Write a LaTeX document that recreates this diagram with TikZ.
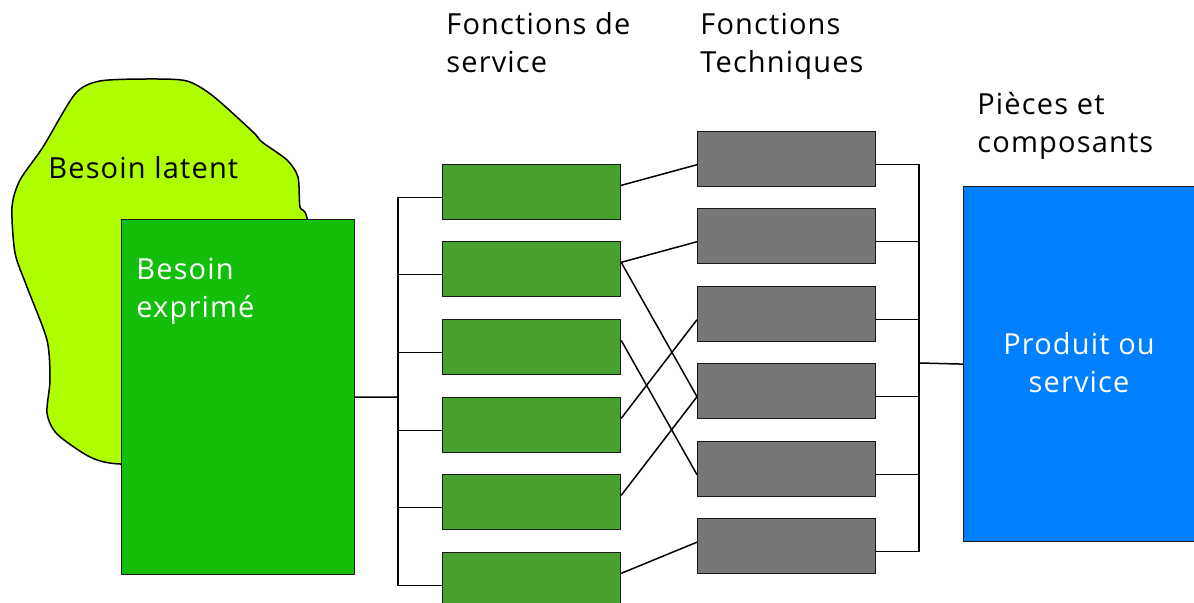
\documentclass[tikz,border=0pt]{standalone}
\usepackage{fontspec}
\setmainfont[LetterSpace=4]{Open Sans}
\usetikzlibrary{calc}

\definecolor{latentfill}{HTML}{AEFF00}
\definecolor{exprfill}{HTML}{13BF0A}
\definecolor{fsfill}{HTML}{4AA02E}
\definecolor{tffill}{HTML}{777777}
\definecolor{prodfill}{HTML}{0080FF}
\definecolor{edge}{HTML}{1A1A1A}

\tikzset{
  lbl/.style={font=\fontsize{14.5}{19}\selectfont, inner sep=0pt, align=left},
  bigbox/.style={draw=edge, line width=0.6pt, anchor=north west,
                 minimum width=116.5pt, minimum height=177.5pt, inner sep=0pt},
  fsbox/.style={draw=edge, line width=0.6pt, fill=fsfill, anchor=north west,
                minimum width=89pt, minimum height=27.5pt, inner sep=0pt},
  tfbox/.style={fsbox, fill=tffill},
  wire/.style={draw=black, line width=0.75pt},
}

\begin{document}
\begin{tikzpicture}[x=0.5pt, y=-0.5pt]
\useasboundingbox (0,0) rectangle (1194,603);

% latent need: free-hand outline behind the expressed need
\filldraw[fill=latentfill, draw=black, line width=0.75pt]
  plot[smooth cycle, tension=0.45] coordinates {
    (100,81) (150,79) (187,81) (213,96) (253,132) (262,142) (287,160)
    (298,177) (300,207) (307,218) (320,300) (300,440) (200,462)
    (120,464) (90,457) (57,434) (47,413) (50,380) (47,340) (27,287)
    (15,253) (12,207) (20,180) (43,147) (75,94)};
\node[lbl, anchor=base west] (latent) at (48,179) {Besoin latent};

% expressed need
\node[bigbox, fill=exprfill] (expr) at (121,219) {};
\node[lbl, anchor=base west, text=white] (exprtxt) at (136,318) {Besoin\\exprimé};

% service functions
\foreach \i/\y in {1/164, 2/241, 3/319, 4/397, 5/474, 6/552}
  \node[fsbox] (fs\i) at (442,\y) {};

% technical functions
\foreach \i/\y in {1/131, 2/208, 3/286, 4/363, 5/441, 6/518}
  \node[tfbox] (tf\i) at (697,\y) {};

% parts and components
\node[bigbox, fill=prodfill] (prod) at (963,186) {};
\node[lbl, align=center, text=white, anchor=base] (prodtxt) at (1079,393) {Produit ou\\service};

% column headings
\node[lbl, anchor=base west] (hfs) at (446,73) {Fonctions de\\service};
\node[lbl, anchor=base west] (htf) at (700,73) {Fonctions\\Techniques};
\node[lbl, anchor=base west] (hpc) at (977,153) {Pièces et\\composants};

% left tree
\coordinate (lbus) at (398,397);
\draw[wire] (expr.east) -- (lbus);
\foreach \i in {1,...,6}
  \draw[wire] ($(fs\i.north west)!0.6!(fs\i.south west)$) -| (lbus);

% right tree
\coordinate (rbus) at (919,363);
\draw[wire] (rbus) -- (prod.west);
\foreach \i in {1,...,6}
  \draw[wire] ($(tf\i.north east)!0.6!(tf\i.south east)$) -| (rbus);

% service -> technical links
\foreach \a/\b/\f in {1/1/0.6, 2/2/0.6, 2/4/0.6, 3/5/0.6, 4/3/0.6, 5/4/0.6, 6/6/0.43}
  \draw[wire] ($(fs\a.north east)!0.38!(fs\a.south east)$) --
              ($(tf\b.north west)!\f!(tf\b.south west)$);
\end{tikzpicture}
\end{document}
